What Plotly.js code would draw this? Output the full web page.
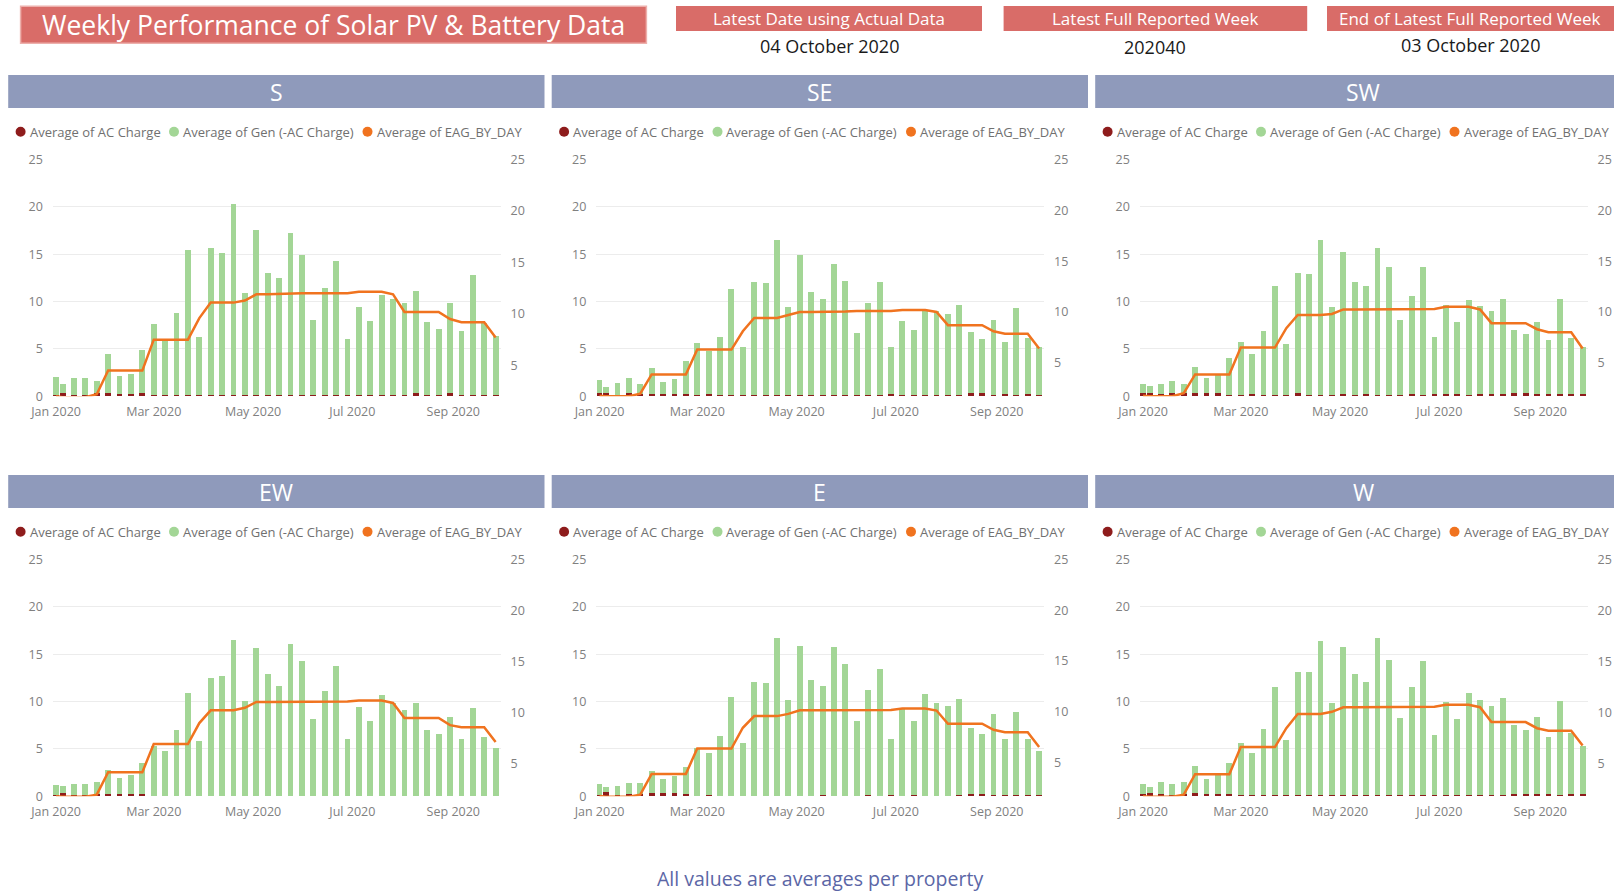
<!DOCTYPE html>
<html><head><meta charset="utf-8">
<script src="https://cdn.plot.ly/plotly-3.0.1.min.js"></script>
<style>html,body{margin:0;padding:0;background:#fff;overflow:hidden}#chart{width:1614px;height:894px}</style>
</head><body><div id="chart"></div>
<script>
// ---------- data ----------
const weekDates = ['2020-01-01','2020-01-05','2020-01-12','2020-01-19','2020-01-26',
  '2020-02-02','2020-02-09','2020-02-16','2020-02-23',
  '2020-03-01','2020-03-08','2020-03-15','2020-03-22','2020-03-29',
  '2020-04-05','2020-04-12','2020-04-19','2020-04-26',
  '2020-05-03','2020-05-10','2020-05-17','2020-05-24','2020-05-31',
  '2020-06-07','2020-06-14','2020-06-21','2020-06-28',
  '2020-07-05','2020-07-12','2020-07-19','2020-07-26',
  '2020-08-02','2020-08-09','2020-08-16','2020-08-23','2020-08-30',
  '2020-09-06','2020-09-13','2020-09-20','2020-09-27'];

const panelNames = ['S','SE','SW','EW','E','W'];

const S_gen  = [1.9,0.9,1.8,1.8,1.3,4.2,1.9,2.1,4.6,7.5,6.0,8.7,15.3,6.2,15.6,15.0,20.2,10.8,17.5,12.9,12.4,17.1,14.8,8.0,11.3,14.2,5.9,9.3,7.8,10.6,10.2,9.7,10.8,7.7,7.0,9.5,6.8,12.7,7.6,6.3];
const SE_gen = [1.4,0.7,1.3,1.6,1.05,2.7,1.3,1.65,3.5,5.5,4.5,6.2,11.2,5.1,12.0,11.9,16.4,9.3,14.8,10.9,10.2,13.9,12.1,6.6,9.75,12.0,5.0,7.8,6.9,9.0,8.9,8.6,9.5,6.4,5.7,8.0,5.5,9.2,5.9,5.1];
const SW_gen = [1.05,0.7,1.05,1.3,1.05,2.8,1.6,1.95,3.9,5.6,4.2,6.8,11.5,5.4,12.7,12.85,16.4,9.3,15.0,12.0,11.4,15.6,13.5,8.0,10.4,13.6,6.1,9.4,7.6,10.1,9.3,8.8,10.1,6.7,6.3,7.6,5.7,10.1,6.0,5.0];
const EW_gen = [1.05,0.7,1.15,1.15,1.3,2.5,1.65,1.95,3.3,5.3,4.75,6.9,10.9,5.8,12.4,12.6,16.5,10.0,15.6,12.85,11.6,16.0,14.2,8.1,11.1,13.7,6.05,9.4,7.85,10.6,9.75,9.1,9.8,7.0,6.5,8.3,6.05,9.3,6.2,5.0];
const E_gen  = [1.15,0.5,1.0,1.15,1.15,2.35,1.5,1.85,2.8,5.0,4.45,6.3,10.45,5.6,12.0,11.9,16.7,10.1,15.85,12.25,11.55,15.7,13.9,7.85,11.1,13.4,6.0,9.15,7.9,10.7,9.8,9.5,10.2,6.95,6.35,8.55,5.9,8.8,5.9,4.7];
const W_gen  = [1.05,0.7,1.25,1.25,1.25,2.9,1.6,2.1,3.35,5.55,4.45,7.0,11.4,5.8,13.0,13.0,16.25,9.7,15.7,12.8,12.0,16.6,14.3,8.2,11.4,14.15,6.35,9.85,8.1,10.8,10.1,9.4,10.3,7.3,6.75,8.2,6.1,9.95,6.5,5.1];

const S_ac  = [0.1,0.35,0.15,0.15,0.3,0.3,0.25,0.25,0.3,0.1,0.1,0.1,0.1,0.1,0.1,0.1,0.1,0.1,0.1,0.1,0.1,0.1,0.1,0.1,0.1,0.1,0.1,0.1,0.1,0.1,0.1,0.1,0.3,0.1,0.1,0.3,0.1,0.1,0.1,0.1];
const SE_ac = [0.3,0.3,0.15,0.3,0.2,0.25,0.25,0.2,0.25,0.15,0.25,0.1,0.1,0.1,0.1,0.1,0.1,0.1,0.1,0.1,0.1,0.1,0.1,0.1,0.1,0.1,0.2,0.1,0.1,0.1,0.1,0.1,0.1,0.35,0.3,0.1,0.25,0.1,0.25,0.1];
const SW_ac = [0.3,0.35,0.2,0.3,0.3,0.3,0.3,0.3,0.15,0.1,0.25,0.1,0.1,0.1,0.35,0.1,0.1,0.1,0.25,0.1,0.25,0.1,0.1,0.1,0.2,0.1,0.2,0.2,0.2,0.1,0.2,0.2,0.2,0.3,0.3,0.2,0.2,0.2,0.2,0.2];
const EW_ac = [0.1,0.35,0.1,0.1,0.2,0.25,0.25,0.25,0.25,0.05,0.05,0.05,0.05,0.05,0.05,0.05,0.05,0.05,0.05,0.05,0.05,0.05,0.05,0.05,0.05,0.05,0.05,0.05,0.05,0.05,0.05,0.05,0.05,0.05,0.05,0.05,0.05,0.05,0.05,0.05];
const E_ac  = [0.1,0.45,0.1,0.25,0.25,0.3,0.3,0.3,0.25,0.05,0.1,0.05,0.05,0.05,0.05,0.05,0.05,0.05,0.05,0.05,0.1,0.05,0.05,0.05,0.1,0.05,0.1,0.05,0.1,0.05,0.05,0.05,0.1,0.25,0.25,0.1,0.1,0.1,0.1,0.1];
const W_ac  = [0.2,0.3,0.25,0.1,0.25,0.3,0.25,0.2,0.2,0.1,0.1,0.1,0.1,0.1,0.1,0.1,0.1,0.1,0.1,0.1,0.1,0.1,0.1,0.1,0.1,0.1,0.1,0.1,0.1,0.1,0.1,0.1,0.1,0.2,0.25,0.2,0.2,0.1,0.2,0.2];

const S_eag  = [2.0,1.9,1.9,1.9,2.2, 4.5,4.5,4.5,4.5, 7.5,7.5,7.5,7.5,9.6, 11.1,11.1,11.1,11.3, 11.9,11.9,11.95,12.0,12.0, 12.0,12.0,12.0,12.0, 12.15,12.15,12.15,11.9, 10.2,10.2,10.2,10.2,9.5, 9.2,9.2,9.2,7.7];
const SE_eag = [1.75,1.7,1.7,1.7,1.95, 3.85,3.85,3.85,3.85, 6.3,6.3,6.3,6.3,8.1, 9.4,9.4,9.4,9.7, 10.0,10.0,10.0,10.05,10.05, 10.1,10.1,10.1,10.1, 10.2,10.2,10.2,10.0, 8.7,8.7,8.7,8.7,8.1, 7.85,7.85,7.85,6.4];
const SW_eag = [1.75,1.7,1.7,1.7,2.0, 3.85,3.85,3.85,3.85, 6.5,6.5,6.5,6.5,8.4, 9.7,9.7,9.7,9.8, 10.25,10.25,10.25,10.25,10.25, 10.3,10.3,10.3,10.3, 10.5,10.5,10.5,10.25, 8.9,8.9,8.9,8.9,8.3, 8.0,8.0,8.0,6.4];
const EW_eag = [1.85,1.8,1.8,1.8,2.0, 4.2,4.2,4.2,4.2, 6.95,6.95,6.95,6.95,9.0, 10.25,10.25,10.25,10.5, 11.07,11.07,11.07,11.07,11.07, 11.1,11.1,11.1,11.1, 11.2,11.2,11.2,10.97, 9.5,9.5,9.5,9.5,8.8, 8.6,8.6,8.6,7.15];
const E_eag  = [1.68,1.6,1.6,1.6,1.8, 3.85,3.85,3.85,3.85, 6.35,6.35,6.35,6.35,8.4, 9.55,9.55,9.55,9.77, 10.13,10.13,10.13,10.13,10.13, 10.15,10.15,10.15,10.15, 10.3,10.3,10.3,10.1, 8.8,8.8,8.8,8.8,8.2, 7.96,7.96,7.96,6.5];
const W_eag  = [1.85,1.8,1.8,1.8,2.0, 4.0,4.0,4.0,4.0, 6.65,6.65,6.65,6.65,8.5, 9.9,9.9,9.9,10.1, 10.55,10.55,10.55,10.55,10.55, 10.6,10.6,10.6,10.6, 10.8,10.8,10.8,10.55, 9.1,9.1,9.1,9.1,8.5, 8.26,8.26,8.26,6.8];

const rightAxisMin = [2.0, 1.7, 1.7, 1.84, 1.64, 1.84];
const leftTicks = [0,5,10,15,20,25];
const rightTicks = [5,10,15,20,25];
const xTickVals = ['2020-01-01','2020-03-01','2020-05-01','2020-07-01','2020-09-01'];
const xTickText = ['Jan 2020','Mar 2020','May 2020','Jul 2020','Sep 2020'];
const legendLabels = ['Average of AC Charge','Average of Gen (-AC Charge)','Average of EAG_BY_DAY'];
const pageTitle = 'Weekly Performance of Solar PV & Battery Data';
const headerLabels = ['Latest Date using Actual Data','Latest Full Reported Week','End of Latest Full Reported Week'];
const headerValues = ['04 October 2020','202040','03 October 2020'];
const footerText = 'All values are averages per property';

// ---------- styling / layout ----------
const W = 1614, H = 894;
const PX = x => x / W, PY = y => 1 - y / H;
const FONT = 'Open Sans, Noto Sans, sans-serif';
const colOff = [0, 543.5, 1087];
const rowOff = [0, 400];
const plotLeft = 52.8, plotRight = 500.5, plotTop = 159.5, plotBottom = 396.3;
const C_AC = '#8E1C1C', C_GEN = '#A3D696', C_EAG = '#F0731F';
const HEAD_BG = '#8F9ABB', RED_BOX = '#D96C68';
const tickFont = {family: FONT, size: 12.5, color: '#808080'};
const barWidth = 3.6 * 86400000;

const series = [
  {gen: S_gen, ac: S_ac, eag: S_eag},
  {gen: SE_gen, ac: SE_ac, eag: SE_eag},
  {gen: SW_gen, ac: SW_ac, eag: SW_eag},
  {gen: EW_gen, ac: EW_ac, eag: EW_eag},
  {gen: E_gen, ac: E_ac, eag: E_eag},
  {gen: W_gen, ac: W_ac, eag: W_eag}
];

const traces = [];
const layout = {
  width: W, height: H,
  margin: {l: 0, r: 0, t: 0, b: 0},
  paper_bgcolor: '#ffffff', plot_bgcolor: 'rgba(0,0,0,0)',
  showlegend: false, barmode: 'stack',
  font: {family: FONT},
  shapes: [], annotations: []
};

const ann = (text, x, y, opts) => Object.assign({
  text: text, x: PX(x), y: PY(y), xref: 'paper', yref: 'paper',
  showarrow: false, xanchor: 'center', yanchor: 'middle'
}, opts || {});
const rect = (x0, y0, x1, y1, fill, line) => ({
  type: 'rect', xref: 'paper', yref: 'paper', layer: 'below',
  x0: PX(x0), x1: PX(x1), y0: PY(y1), y1: PY(y0),
  fillcolor: fill, line: line || {width: 0}
});

series.forEach((s, k) => {
  const col = k % 3, row = Math.floor(k / 3);
  const co = colOff[col], ro = rowOff[row];
  const n = k === 0 ? '' : String(k + 1);
  const rn = String(k + 7);

  layout['xaxis' + n] = {
    domain: [PX(plotLeft + co), Math.min(1, PX(plotRight + co))],
    anchor: 'y' + n, type: 'date',
    range: ['2019-12-30', '2020-09-30'],
    tickvals: xTickVals, ticktext: xTickText,
    showgrid: false, zeroline: false, showline: false, ticks: '',
    tickfont: tickFont, ticklabelstandoff: 6, fixedrange: true
  };
  layout['yaxis' + n] = {
    domain: [PY(plotBottom + ro), PY(plotTop + ro)],
    anchor: 'x' + n, range: [0, 25], tickvals: leftTicks,
    showgrid: true, gridcolor: '#ececec', gridwidth: 1,
    zeroline: false, showline: false, ticks: '',
    tickfont: tickFont, ticklabelstandoff: 9, fixedrange: true
  };
  layout['yaxis' + rn] = {
    overlaying: 'y' + n, side: 'right', anchor: 'x' + n,
    range: [rightAxisMin[k], 25], tickvals: rightTicks,
    showgrid: false, zeroline: false, showline: false, ticks: '',
    tickfont: tickFont, ticklabelstandoff: 9, fixedrange: true
  };

  traces.push({type: 'bar', name: legendLabels[0], x: weekDates, y: s.ac,
    xaxis: 'x' + n, yaxis: 'y' + n, width: barWidth,
    marker: {color: C_AC, line: {width: 0}}, hoverinfo: 'skip'});
  traces.push({type: 'bar', name: legendLabels[1], x: weekDates, y: s.gen,
    xaxis: 'x' + n, yaxis: 'y' + n, width: barWidth,
    marker: {color: C_GEN, line: {width: 0}}, hoverinfo: 'skip'});
  traces.push({type: 'scatter', mode: 'lines', name: legendLabels[2], x: weekDates, y: s.eag,
    xaxis: 'x' + n, yaxis: 'y' + rn,
    line: {color: C_EAG, width: 2.5}, hoverinfo: 'skip'});

  // panel header
  layout.shapes.push(rect(8.2 + co, 75 + ro, Math.min(W + 5, 544.5 + co), 108 + ro, HEAD_BG));
  layout.annotations.push(ann(panelNames[k], 276.4 + co, 92 + ro,
    {font: {family: FONT, size: 23, color: '#ffffff'}}));

  // legend
  const ly = 131.8 + ro;
  const markX = [20.6, 174, 367.5];
  const textX = [27.5, 180.5, 374.5];
  const mcol = [C_AC, C_GEN, C_EAG];
  for (let j = 0; j < 3; j++) {
    layout.shapes.push({type: 'circle', xref: 'paper', yref: 'paper',
      x0: PX(markX[j] + co - 5), x1: PX(markX[j] + co + 5),
      y0: PY(ly + 5), y1: PY(ly - 5), fillcolor: mcol[j], line: {width: 0}});
    layout.annotations.push(ann(legendLabels[j], textX[j] + co, ly,
      {xanchor: 'left', font: {family: FONT, size: 13, color: '#707070'}}));
  }
});

// top banner
layout.shapes.push(rect(20.6, 6.2, 646.4, 43.2, RED_BOX, {color: '#EDB0AC', width: 1.5}));
layout.annotations.push(ann(pageTitle, 333.5, 25.5,
  {font: {family: FONT, size: 26.5, color: '#ffffff'}}));

const boxX = [[676, 982], [1003.6, 1307.2], [1327, 1620]];
const valY = [46.3, 47.3, 45.3];
for (let j = 0; j < 3; j++) {
  layout.shapes.push(rect(boxX[j][0], 6, boxX[j][1], 31, RED_BOX));
  const cx = j === 2 ? 1470 : (boxX[j][0] + boxX[j][1]) / 2;
  layout.annotations.push(ann(headerLabels[j], cx, 18.5,
    {font: {family: FONT, size: 17, color: '#ffffff'}}));
  layout.annotations.push(ann(headerValues[j], cx, valY[j],
    {font: {family: FONT, size: 18, color: '#1a1a1a'}}));
}

layout.annotations.push(ann(footerText, 820, 878,
  {font: {family: FONT, size: 19.5, color: '#5B66A6'}, borderpad: 0}));

Plotly.newPlot('chart', traces, layout, {displayModeBar: false, staticPlot: true});
</script>
</body></html>
